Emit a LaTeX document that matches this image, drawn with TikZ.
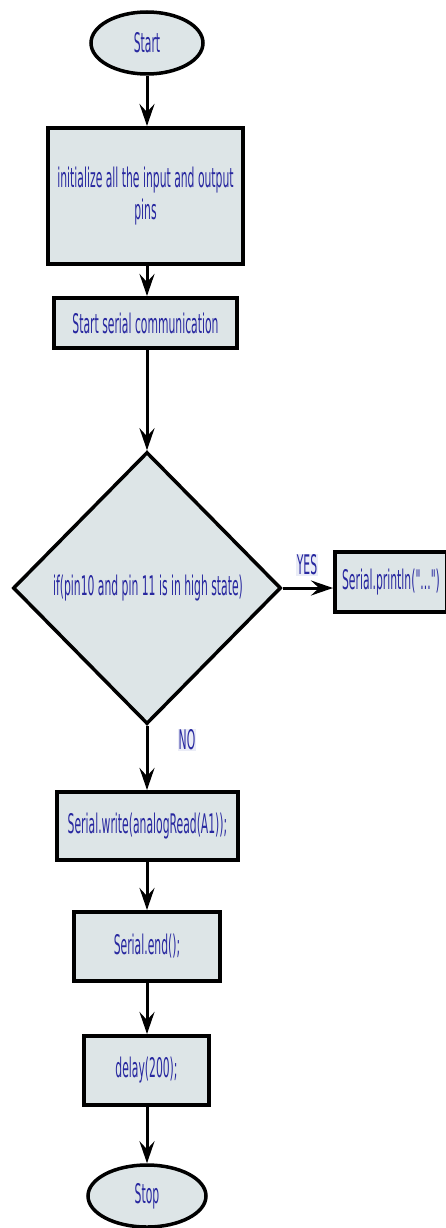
\documentclass[tikz,border=0pt]{standalone}
\usepackage{fontspec}
\newfontfamily\flowfont[FakeStretch=0.40]{DejaVu Sans}
\usetikzlibrary{shapes.geometric,arrows.meta}
\definecolor{boxfill}{RGB}{221,229,231}
\definecolor{txtblue}{RGB}{40,40,160}
\definecolor{lblbg}{RGB}{234,236,246}
\begin{document}
\begin{tikzpicture}[x=1pt,y=-1pt,
  every node/.style={font=\flowfont\fontsize{27}{32}\selectfont, text=txtblue},
  proc/.style={draw=black, line width=4pt, fill=boxfill, rectangle, inner sep=0pt},
  term/.style={draw=black, line width=3.5pt, fill=boxfill, ellipse, inner sep=0pt},
  decision/.style={draw=black, line width=3.5pt, fill=boxfill, diamond, inner sep=0pt},
  arr/.style={line width=3pt, -{Stealth[length=22pt,width=15pt,inset=8pt]}},
  lbl/.style={fill=lblbg, inner sep=1pt}]
\useasboundingbox (0,0) rectangle (445,1228);
\fill[white] (0,0) rectangle (445,1228);

\node[term, minimum width=112pt, minimum height=62pt] (start) at (147,43) {Start};
\node[proc, minimum width=195pt, minimum height=136pt, align=center] (init) at (145.5,196) {initialize all the input and output\\pins};
\node[proc, minimum width=183pt, minimum height=50pt] (serial) at (145.5,323) {Start serial communication};
\node[decision, minimum width=268pt, minimum height=272pt] (dec) at (147,588) {};
\node (dectext) at (148,588) {if(pin10 and pin 11 is in high state)};
\node[proc, minimum width=112pt, minimum height=60pt] (yesbox) at (391,582) {Serial.println("...")};
\node[proc, minimum width=181pt, minimum height=68pt] (write) at (147.5,826) {Serial.write(analogRead(A1));};
\node[proc, minimum width=146pt, minimum height=69pt] (end) at (147,946.5) {Serial.end();};
\node[proc, minimum width=125pt, minimum height=69pt] (delay) at (146.5,1070.5) {delay(200);};
\node[term, minimum width=118pt, minimum height=62pt] (stop) at (147,1196) {Stop};

\node[lbl] (yes) at (307,565) {YES};
\node[lbl] (no) at (187,740) {NO};

\draw[arr] (start.south) -- (start.south |- init.north);
\draw[arr] (start.south |- init.south) -- (start.south |- serial.north);
\draw[arr] (start.south |- serial.south) -- (dec.north);
\draw[arr] (dec.east) -- (dec.east -| yesbox.west);
\draw[arr] (dec.south) -- (dec.south |- write.north);
\draw[arr] (dec.south |- write.south) -- (dec.south |- end.north);
\draw[arr] (dec.south |- end.south) -- (dec.south |- delay.north);
\draw[arr] (dec.south |- delay.south) -- (stop.north);
\end{tikzpicture}
\end{document}
